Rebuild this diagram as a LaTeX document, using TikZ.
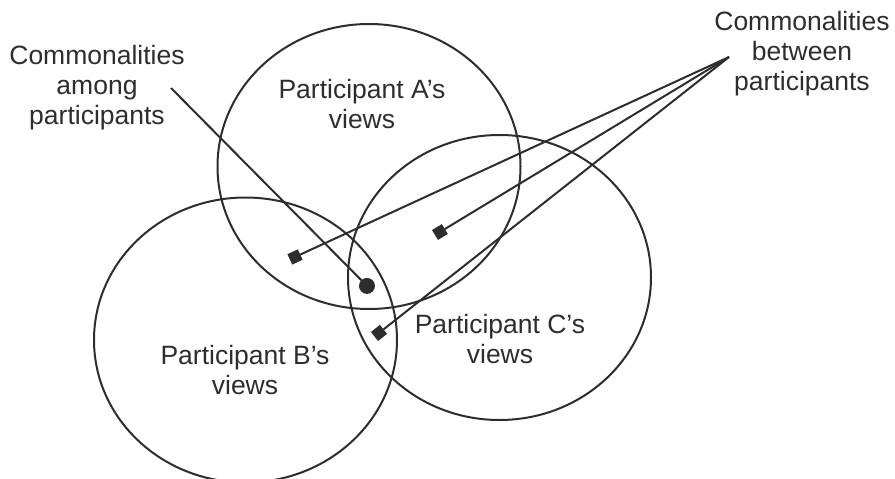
\documentclass[tikz,border=0pt]{standalone}
\usepackage{fontspec}
\setmainfont{Liberation Sans}
\usetikzlibrary{positioning, arrows.meta, shapes.geometric}
\definecolor{ink}{RGB}{45,45,45}

\begin{document}
\begin{tikzpicture}[x=1pt, y=-1pt, line width=2pt, color=ink,
  every node/.style={font=\fontsize{26.5}{30}\selectfont, align=center},
  view/.style={draw, ellipse, inner sep=0pt, minimum width=303pt, minimum height=285pt},
  link/.style={-{Square[length=11.5pt, width=11.5pt, line width=0pt]}}]
  \useasboundingbox (0,0) rectangle (895,479);

  % the three views
  \node (viewA) [view] at (369,166.5) {};
  \node (viewB) [view] at (245.5,340) {};
  \node (viewC) [view] at (499.5,277.5) {};
  \node (labelA) at (362,104) {Participant A’s\\views};
  \node (labelB) at (245,370) {Participant B’s\\views};
  \node (labelC) at (500,339) {Participant C’s\\views};

  % callouts
  \node (among) at (97,88) {Commonalities\\among\\participants};
  \node (between) at (802,54) {Commonalities\\between\\participants};
  \coordinate (amongend) at (171,88);
  \coordinate (fan) at (729,57);
  \coordinate (ab) at (289.8,259.4);
  \coordinate (ac) at (435,235);
  \coordinate (bc) at (374.5,336.5);
  \coordinate (abc) at (372.6,291.6);

  \draw[-{Circle[length=16pt, line width=0pt]}] (amongend) -- (abc);
  \draw[link] (fan) -- (ab);
  \draw[link] (fan) -- (ac);
  \draw[link] (fan) -- (bc);
\end{tikzpicture}
\end{document}
